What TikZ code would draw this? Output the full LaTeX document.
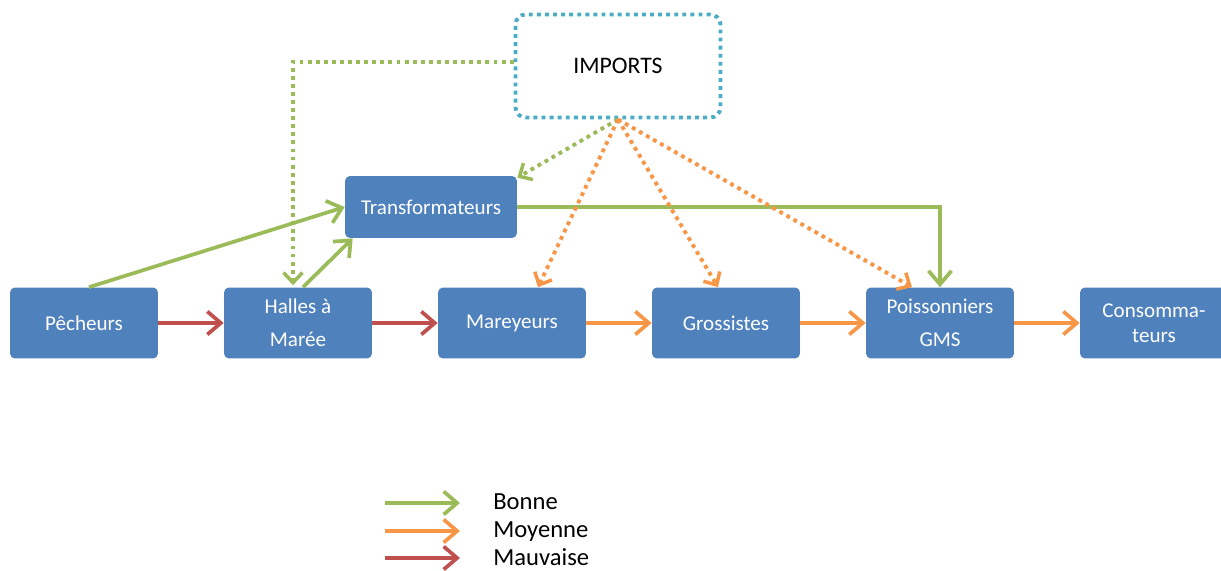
\documentclass[tikz,border=0pt]{standalone}
\usepackage{fontspec}
\setmainfont{Carlito}
\usetikzlibrary{arrows.meta}

\definecolor{boxblue}{HTML}{4F81BD}
\definecolor{bonne}{HTML}{9BBB59}
\definecolor{moyenne}{HTML}{F79646}
\definecolor{mauvaise}{HTML}{C0504D}
\definecolor{importcol}{HTML}{4BACC6}

\begin{document}
\begin{tikzpicture}[x=0.02cm, y=-0.02cm,
    acteur/.style={rectangle, rounded corners=0.1cm, fill=boxblue, text=white,
        minimum width=2.96cm, minimum height=1.42cm, align=center,
        font=\fontsize{12}{19}\selectfont},
    flux/.style={line width=2.1pt, -{Straight Barb[length=0.27cm, width=0.46cm, line width=2.1pt]}},
    pointille/.style={line width=2.2pt, dash pattern=on 2.2pt off 2.4pt,
        -{Straight Barb[length=0.2cm, width=0.38cm, line width=2pt]}},
    legende/.style={anchor=base west, inner sep=0pt, font=\fontsize{14}{16}\selectfont}]
    \useasboundingbox (0, 0) rectangle (1221, 571);

    % acteurs
    \node[acteur] (pech) at (84, 323) {Pêcheurs};
    \node[acteur] (halles) at (298, 323) {Halles à\\Marée};
    \node[acteur] (mare) at (512, 323) {Mareyeurs};
    \node[acteur] (gross) at (726, 323) {Grossistes};
    \node[acteur] (poiss) at (940, 323) {Poissonniers\\GMS};
    \node[acteur, font=\fontsize{12}{14}\selectfont] (conso) at (1154, 323) {Consomma-\\teurs};
    \node[acteur, minimum width=3.44cm, minimum height=1.24cm] (trans) at (431, 207) {Transformateurs};
    \node[rectangle, rounded corners=0.2cm, draw=importcol, fill=white,
        line width=2.2pt, dash pattern=on 2.2pt off 2.4pt,
        minimum width=4.1cm, minimum height=2.06cm,
        font=\fontsize{13.5}{16}\selectfont] (imports) at (618, 66) {IMPORTS};

    % chaine principale
    \draw[flux, mauvaise] (pech) -- (halles);
    \draw[flux, mauvaise] (halles) -- (mare);
    \draw[flux, moyenne] (mare) -- (gross);
    \draw[flux, moyenne] (gross) -- (poiss);
    \draw[flux, moyenne] (poiss) -- (conso);

    % transformateurs
    \draw[flux, bonne] ([xshift=0.1cm]pech.north) -- (trans.west);
    \draw[flux, bonne] ([xshift=0.1cm]halles.north) -- ([xshift=0.16cm]trans.south west);
    \draw[flux, bonne] (trans.east) -| (poiss.north);

    % imports
    \draw[pointille, bonne] ([yshift=0.08cm]imports.west) -| ([xshift=-0.1cm, yshift=0.04cm]halles.north);
    \draw[pointille, bonne] (imports.south) -- ([yshift=-0.04cm]trans.north east);
    \draw[pointille, moyenne] (imports.south) -- ([xshift=0.52cm]mare.north);
    \draw[pointille, moyenne] (imports.south) -- ([xshift=-0.16cm]gross.north);
    \draw[pointille, moyenne] (imports.south) -- ([xshift=-0.56cm]poiss.north);

    % legende
    \coordinate (lb) at (385, 503);
    \coordinate (lm) at (385, 531);
    \coordinate (lv) at (385, 558);
    \coordinate (lbe) at (460, 503);
    \coordinate (lme) at (460, 531);
    \coordinate (lve) at (460, 558);
    \draw[flux, bonne] (lb) -- (lbe);
    \draw[flux, moyenne] (lm) -- (lme);
    \draw[flux, mauvaise] (lv) -- (lve);
    \node[legende] (bonnetxt) at (493, 509) {Bonne};
    \node[legende] (moytxt) at (493, 537) {Moyenne};
    \node[legende] (mauvtxt) at (493, 565) {Mauvaise};
\end{tikzpicture}
\end{document}
